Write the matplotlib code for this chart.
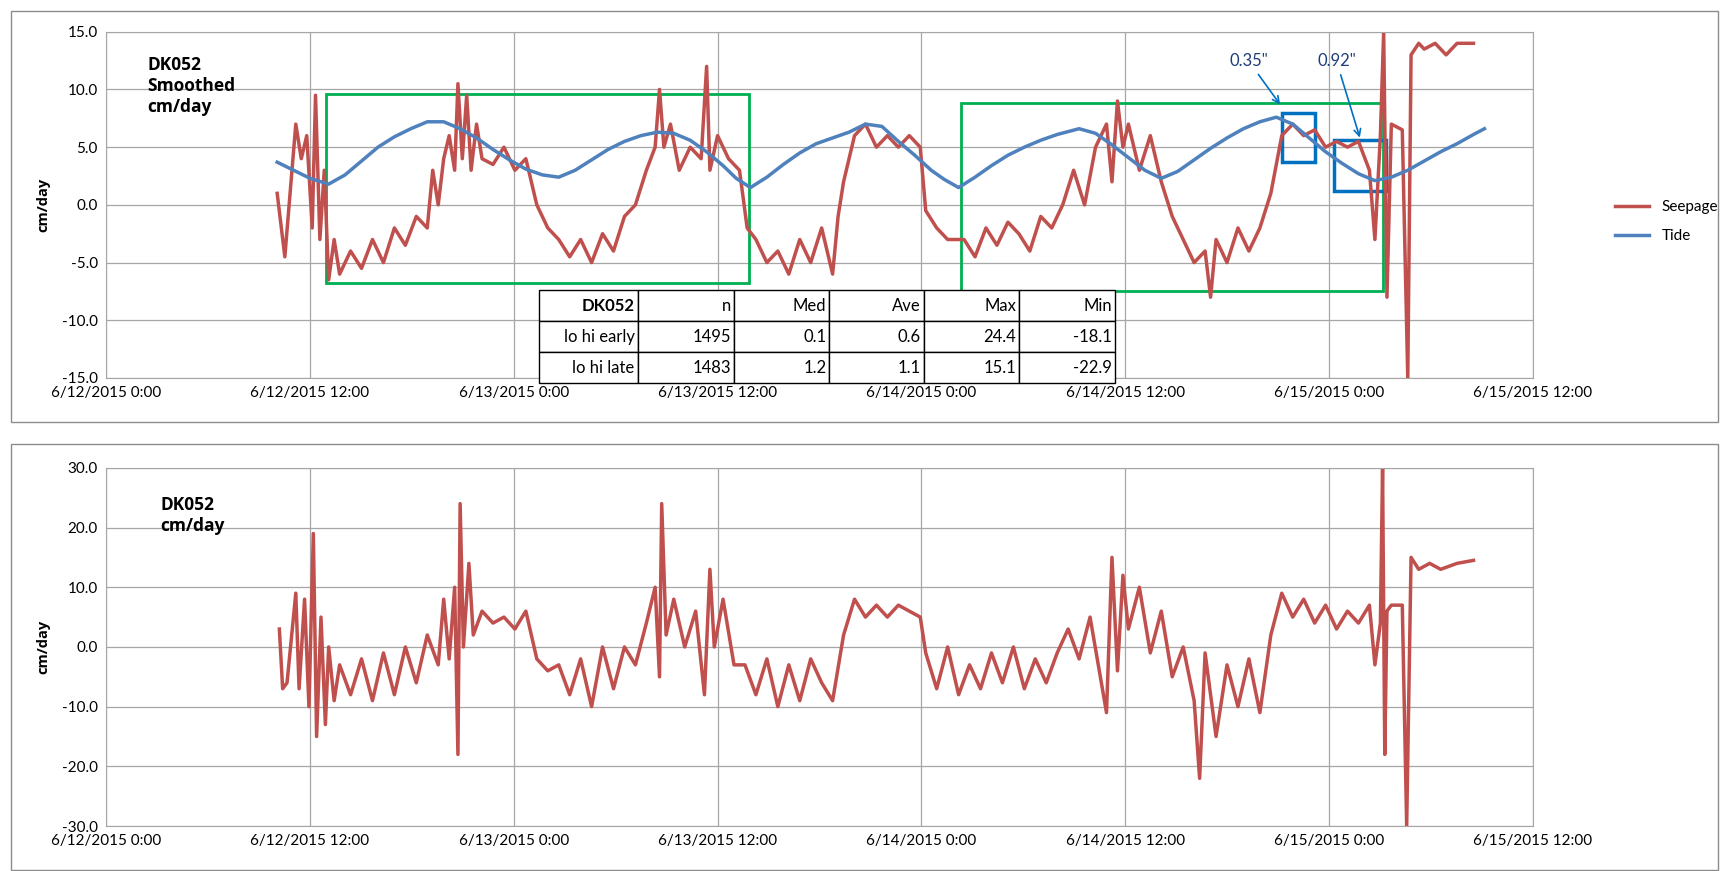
import matplotlib
matplotlib.use("Agg")
import matplotlib.pyplot as plt
from matplotlib.patches import Rectangle
import numpy as np

plt.rcParams['font.family'] = ['Lato', 'DejaVu Sans']

W, H = 1570.0, 795.0
PX0, PXH = 97.0, 15.5  # px of hour 0, px per hour

tick_labels = ["6/12/2015 0:00", "6/12/2015 12:00", "6/13/2015 0:00", "6/13/2015 12:00",
               "6/14/2015 0:00", "6/14/2015 12:00", "6/15/2015 0:00", "6/15/2015 12:00"]

tide_px = [253, 268, 283, 300, 315, 330, 345, 360, 375, 390, 405, 420, 435, 450, 465, 480, 495, 510,
           525, 540, 555, 570, 585, 600, 615, 630, 645, 660, 672, 685, 700, 715, 730, 745, 760, 775, 790,
           805, 820, 835, 850, 862, 875, 890, 905, 920, 935, 950, 965, 985, 1000, 1015, 1030, 1045, 1060,
           1075, 1090, 1105, 1120, 1135, 1150, 1165, 1180, 1195, 1210, 1225, 1240, 1255, 1270, 1285, 1300,
           1315, 1330, 1345, 1355]
tide_val = [3.7, 3.0, 2.3, 1.8, 2.6, 3.8, 5.0, 5.9, 6.6, 7.2, 7.2, 6.6, 5.8, 4.8, 3.9, 3.1, 2.6, 2.4,
            3.0, 3.9, 4.8, 5.5, 6.0, 6.3, 6.2, 5.6, 4.6, 3.4, 2.3, 1.5, 2.4, 3.5, 4.5, 5.3, 5.8, 6.3, 7.0,
            6.8, 5.5, 4.3, 3.0, 2.2, 1.5, 2.4, 3.4, 4.3, 5.0, 5.6, 6.1, 6.6, 6.2, 5.2, 4.1, 3.0, 2.3,
            2.9, 3.9, 4.9, 5.8, 6.6, 7.2, 7.6, 7.0, 5.8, 4.6, 3.6, 2.7, 2.1, 2.4, 3.0, 3.8,
            4.6, 5.3, 6.1, 6.6]

smooth_px = [253, 260, 270, 275, 280, 285, 288, 292, 296, 300, 305, 310, 320, 330, 340, 350, 360, 370, 380, 390,
             395, 400, 405, 410, 415, 418, 422, 426, 430, 435, 440, 450, 460, 470, 480, 490, 500, 510, 520, 530,
             540, 550, 560, 570, 580, 590, 598, 602, 606, 612, 620, 630, 640, 645, 648, 655, 665, 675, 682, 690,
             700, 710, 720, 730, 740, 750, 760, 765, 770, 780, 790, 800, 810, 820, 830, 840, 845, 855, 865, 880,
             890, 900, 910, 920, 930, 940, 950, 960, 970, 980, 990, 1000, 1010, 1015, 1020, 1025, 1030, 1040, 1050, 1060,
             1070, 1080, 1090, 1100, 1105, 1110, 1120, 1130, 1140, 1150, 1160, 1170, 1180, 1190, 1200, 1210, 1220, 1230, 1240, 1250,
             1255, 1260, 1263, 1266, 1270, 1280, 1285, 1288, 1295, 1300, 1310, 1320, 1330, 1345]
smooth_val = [1, -4.5, 7, 4, 6, -2, 9.5, -3, 3, -6.5, -3, -6, -4, -5.5, -3, -5, -2, -3.5, -1, -2,
              3, 0, 4, 6, 3, 10.5, 4, 9.5, 3, 7, 4, 3.5, 5, 3, 4, 0, -2, -3, -4.5, -3,
              -5, -2.5, -4, -1, 0, 3, 5, 10, 5, 7, 3, 5, 4, 12, 3, 6, 4, 3, -2, -3,
              -5, -4, -6, -3, -5, -2, -6, -1, 2, 6, 7, 5, 6, 5, 6, 5, -0.5, -2, -3, -3,
              -4.5, -2, -3.5, -1.5, -2.5, -4, -1, -2, 0, 3, 0, 5, 7, 2, 9, 5, 7, 3, 6, 2,
              -1, -3, -5, -4, -8, -3, -5, -2, -4, -2, 1, 6, 7, 6, 6.5, 5, 5.5, 5, 5.5, 3,
              -3, 6, 15, -8, 7, 6.5, -15, 13, 14, 13.5, 14, 13, 14, 14]

raw_px = [255, 258, 262, 270, 273, 278, 282, 286, 289, 293, 297, 300, 305, 310, 320, 330, 340, 350, 360, 370,
          380, 390, 400, 405, 410, 415, 418, 420, 423, 428, 432, 440, 450, 460, 470, 480, 490, 500, 510, 520,
          530, 540, 550, 560, 570, 580, 590, 598, 602, 604, 608, 615, 625, 635, 643, 648, 652, 660, 670, 680,
          690, 700, 710, 720, 730, 740, 750, 760, 770, 780, 790, 800, 810, 820, 830, 840, 845, 855, 865, 875,
          885, 895, 905, 915, 925, 935, 945, 955, 965, 975, 985, 995, 1010, 1015, 1020, 1025, 1030, 1040, 1050, 1060,
          1070, 1080, 1090, 1095, 1100, 1110, 1120, 1130, 1140, 1150, 1160, 1170, 1180, 1190, 1200, 1210, 1220, 1230, 1240, 1250,
          1255, 1260, 1262, 1264, 1266, 1270, 1280, 1284, 1288, 1295, 1305, 1315, 1330, 1345]
raw_val = [3, -7, -6, 9, -7, 8, -10, 19, -15, 5, -13, 0, -9, -3, -8, -2, -9, -1, -8, 0,
           -6, 2, -3, 8, -2, 10, -18, 24, 0, 14, 2, 6, 4, 5, 3, 6, -2, -4, -3, -8,
           -2, -10, 0, -7, 0, -3, 4, 10, -5, 24, 2, 8, 0, 6, -8, 13, 0, 8, -3, -3,
           -8, -2, -10, -3, -9, -2, -6, -9, 2, 8, 5, 7, 5, 7, 6, 5, -1, -7, 0, -8,
           -3, -7, -1, -6, 0, -7, -2, -6, -1, 3, -2, 5, -11, 15, -4, 12, 3, 10, -1, 6,
           -5, 0, -9, -22, -1, -15, -3, -10, -2, -11, 2, 9, 5, 8, 4, 7, 3, 6, 4, 7,
           -3, 4, 30, -18, 6, 7, 7, -30, 15, 13, 14, 13, 14, 14.5]

tbl_header = ["DK052", "n", "Med", "Ave", "Max", "Min"]
tbl_rows = [["lo hi early", "1495", "0.1", "0.6", "24.4", "-18.1"],
            ["lo hi late", "1483", "1.2", "1.1", "15.1", "-22.9"]]

RED = "#C0504D"
BLUE = "#4F81BD"
GREEN = "#00B050"
DBLUE = "#0070C0"
GRID = "#A6A6A6"
BOLDFONT = ["Open Sans", "DejaVu Sans"]

def h(px):
    return (np.asarray(px, float) - PX0) / PXH

fig = plt.figure(figsize=(17.2, 8.71), dpi=100)

def fr(x0, y0, x1, y1):
    return [x0 / W, 1 - y1 / H, (x1 - x0) / W, (y1 - y0) / H]

for (y0, y1) in [(10, 385), (405, 794)]:
    fig.patches.append(Rectangle((10 / W, 1 - y1 / H), 1558 / W, (y1 - y0) / H, transform=fig.transFigure,
                                 fill=False, ec="#8C8C8C", lw=1))

def style(ax, lim, step):
    ax.set_xlim(0, 84)
    ax.set_ylim(-lim, lim)
    ax.set_xticks(np.arange(0, 85, 12))
    ax.set_xticklabels(tick_labels, fontsize=11)
    ax.set_yticks(np.arange(-lim, lim + 0.1, step))
    ax.set_yticklabels([f"{v:.1f}" for v in np.arange(-lim, lim + 0.1, step)], fontsize=11)
    ax.grid(True, color=GRID, lw=0.9)
    ax.set_axisbelow(True)
    for s in ax.spines.values():
        s.set_color(GRID)
    ax.tick_params(length=0, pad=6)
    ax.set_ylabel("cm/day", fontsize=10.5, fontweight="bold", family=BOLDFONT, labelpad=8)

ax1 = fig.add_axes(fr(97, 29, 1399, 345))
style(ax1, 15, 5)
ax1.plot(h(smooth_px), smooth_val, color=RED, lw=2.5, label="Seepage")
ax1.plot(h(tide_px), tide_val, color=BLUE, lw=2.5, label="Tide")
ax1.text(0.029, 0.93, "DK052\nSmoothed\ncm/day", transform=ax1.transAxes, fontsize=12.5, fontweight="bold",
         family=BOLDFONT, va="top", ha="left", linespacing=1.2)
for (x0, x1, ya, yb) in [(298, 684, -6.8, 9.6), (877, 1262, -7.5, 8.8)]:
    ax1.add_patch(Rectangle((h(x0), ya), h(x1) - h(x0), yb - ya, fill=False, ec=GREEN, lw=2))
for (x0, x1, ya, yb) in [(1170, 1200, 3.7, 8.0), (1218, 1265, 1.2, 5.6)]:
    ax1.add_patch(Rectangle((h(x0), ya), h(x1) - h(x0), yb - ya, fill=False, ec=DBLUE, lw=2.5))
ax1.annotate('0.35"', xy=(h(1170), 8.5), xytext=(h(1140), 12), fontsize=12, color="#1F3D7A", ha="center",
             arrowprops=dict(arrowstyle="->", color=DBLUE, lw=1.2))
ax1.annotate('0.92"', xy=(h(1242), 5.6), xytext=(h(1220), 12), fontsize=12, color="#1F3D7A", ha="center",
             arrowprops=dict(arrowstyle="->", color=DBLUE, lw=1.2))
fig.legend(handles=ax1.get_lines(), loc="upper left", bbox_to_anchor=(1462 / W, 1 - 170 / H),
           frameon=False, fontsize=11, handlelength=2.2, labelspacing=1.0)

axt = fig.add_axes(fr(492, 265, 1018, 350))
axt.axis("off")
tb = axt.table(cellText=[tbl_header] + tbl_rows, bbox=[0, 0, 1, 1],
               colWidths=[90, 88, 87, 86, 87, 88], cellLoc="right")
tb.auto_set_font_size(False)
for (r, c), cell in tb.get_celld().items():
    cell.set_fontsize(12)
    cell.set_edgecolor("black")
    cell.set_linewidth(1)
    cell.PAD = 0.03
    if c == 0:
        cell._loc = "left"
    if r == 0 and c == 0:
        cell._loc = "center"
        cell.get_text().set_fontweight("bold")

ax2 = fig.add_axes(fr(97, 427, 1399, 754))
style(ax2, 30, 10)
ax2.plot(h(raw_px), raw_val, color=RED, lw=2.5)
ax2.text(0.038, 0.92, "DK052\ncm/day", transform=ax2.transAxes, fontsize=12.5, fontweight="bold",
         family=BOLDFONT, va="top", ha="left", linespacing=1.2)

fig.savefig("out.png", dpi=100)
